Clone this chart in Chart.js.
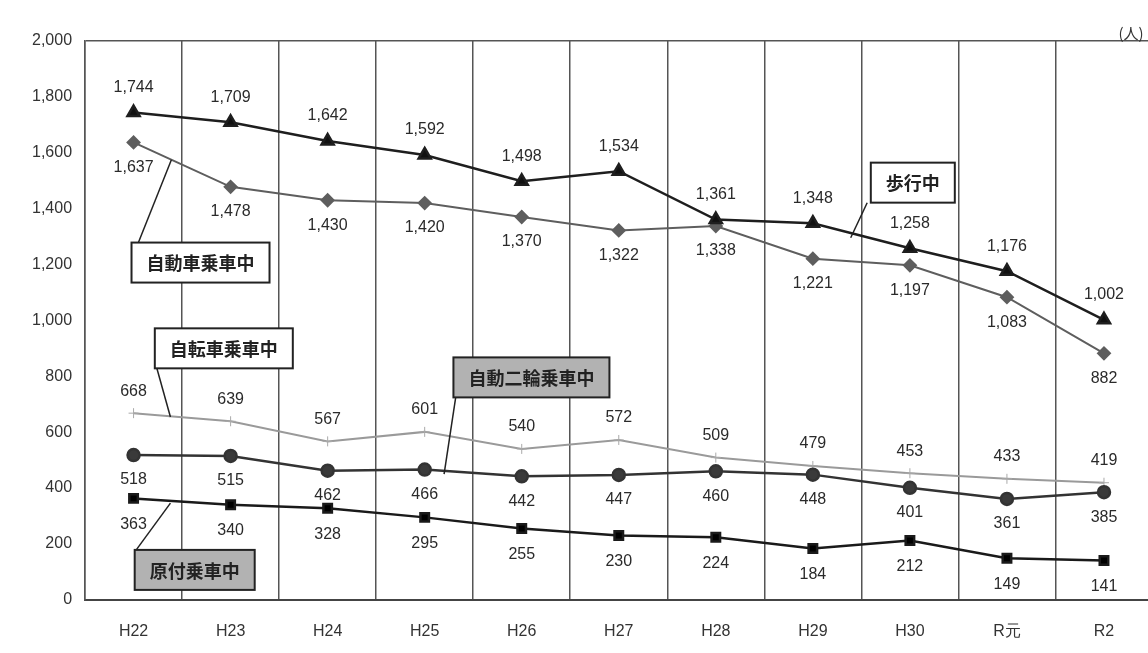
<!DOCTYPE html>
<html>
<head>
<meta charset="utf-8">
<script src="https://cdn.jsdelivr.net/npm/chart.js@4"></script>
<style>
  html, body { margin: 0; padding: 0; background: #fff; overflow: hidden; }
  #wrap { width: 1162px; height: 663px; }
</style>
</head>
<body>
<div id="wrap"><canvas id="chartCasualties"></canvas></div>
<script>
const years = ['H22', 'H23', 'H24', 'H25', 'H26', 'H27', 'H28', 'H29', 'H30', 'R元', 'R2'];
const walking = [1744, 1709, 1642, 1592, 1498, 1534, 1361, 1348, 1258, 1176, 1002];
const car = [1637, 1478, 1430, 1420, 1370, 1322, 1338, 1221, 1197, 1083, 882];
const bicycle = [668, 639, 567, 601, 540, 572, 509, 479, 453, 433, 419];
const motorcycle = [518, 515, 462, 466, 442, 447, 460, 448, 401, 361, 385];
const moped = [363, 340, 328, 295, 255, 230, 224, 184, 212, 149, 141];

// callout boxes: centre (category index, value), leader line from / to
const callouts = [
  { text: '歩行中', x: 8.03, y: 1493, fill: '#fff', from: [7.56, 1421], to: [7.39, 1296] },
  { text: '自動車乗車中', x: 0.69, y: 1207, fill: '#fff', from: [0.05, 1279], to: [0.39, 1575] },
  { text: '自転車乗車中', x: 0.93, y: 900, fill: '#fff', from: [0.24, 829], to: [0.38, 654] },
  { text: '自動二輪乗車中', x: 4.1, y: 796, fill: '#b2b2b2', from: [3.32, 725], to: [3.2, 450] },
  { text: '原付乗車中', x: 0.63, y: 107, fill: '#b2b2b2', from: [0.02, 175], to: [0.38, 346] },
];

const valueLabels = {
  id: 'valueLabels',
  afterDatasetsDraw(chart) {
    const ctx = chart.ctx;
    ctx.save();
    ctx.font = '16px "Liberation Sans", Arial, sans-serif';
    ctx.fillStyle = '#2a2a2a';
    ctx.textAlign = 'center';
    ctx.textBaseline = 'middle';
    chart.data.datasets.forEach((ds, di) => {
      const meta = chart.getDatasetMeta(di);
      meta.data.forEach((pt, i) => {
        ctx.fillText(ds.data[i].toLocaleString('en-US'), pt.x, pt.y + ds.labelOffset);
      });
    });
    ctx.restore();
  }
};

const calloutBoxes = {
  id: 'calloutBoxes',
  afterDatasetsDraw(chart) {
    const ctx = chart.ctx;
    const xs = chart.scales.x, ys = chart.scales.y;
    ctx.save();
    ctx.strokeStyle = '#222';
    ctx.lineWidth = 1.5;
    callouts.forEach(c => {
      ctx.beginPath();
      ctx.moveTo(xs.getPixelForValue(c.from[0]), ys.getPixelForValue(c.from[1]));
      ctx.lineTo(xs.getPixelForValue(c.to[0]), ys.getPixelForValue(c.to[1]));
      ctx.stroke();
    });
    ctx.font = 'bold 18px "Noto Sans CJK JP", sans-serif';
    ctx.textAlign = 'center';
    ctx.textBaseline = 'middle';
    callouts.forEach(c => {
      const cx = xs.getPixelForValue(c.x), cy = ys.getPixelForValue(c.y);
      const w = ctx.measureText(c.text).width + 30, h = 40;
      ctx.fillStyle = c.fill;
      ctx.fillRect(cx - w / 2, cy - h / 2, w, h);
      ctx.lineWidth = 2;
      ctx.strokeRect(cx - w / 2, cy - h / 2, w, h);
      ctx.fillStyle = '#222';
      ctx.fillText(c.text, cx, cy + 1);
    });
    // unit
    ctx.font = '15px "Noto Sans CJK JP", sans-serif';
    ctx.textAlign = 'left';
    ctx.fillStyle = '#333';
    ctx.fillText('(人)', xs.getPixelForValue(10.15), ys.getPixelForValue(2000) - 8);
    ctx.restore();
  }
};

const chartCasualties = document.getElementById('chartCasualties');

new Chart(chartCasualties, {
  type: 'line',
  data: {
    labels: years,
    datasets: [
      {
        label: '自転車乗車中',
        data: bicycle,
        borderColor: '#9a9a9a',
        borderWidth: 2,
        pointStyle: 'cross',
        pointRadius: 5,
        pointBorderColor: '#aaa',
        pointBorderWidth: 1,
        labelOffset: -22,
        order: 5,
      },
      {
        label: '自動車乗車中',
        data: car,
        borderColor: '#5e5e5e',
        backgroundColor: '#5e5e5e',
        borderWidth: 2,
        pointStyle: 'rectRot',
        pointRadius: 6,
        labelOffset: 25,
        order: 4,
      },
      {
        label: '歩行中',
        data: walking,
        borderColor: '#1e1e1e',
        backgroundColor: '#111',
        borderWidth: 2.5,
        pointStyle: 'triangle',
        pointRadius: 7,
        labelOffset: -25,
        order: 3,
      },
      {
        label: '自動二輪乗車中',
        data: motorcycle,
        borderColor: '#333',
        backgroundColor: '#3a3a3a',
        borderWidth: 2.5,
        pointStyle: 'circle',
        pointRadius: 6,
        labelOffset: 25,
        order: 2,
      },
      {
        label: '原付乗車中',
        data: moped,
        borderColor: '#1a1a1a',
        backgroundColor: '#000',
        borderWidth: 2.5,
        pointStyle: 'rect',
        pointRadius: 6,
        labelOffset: 26,
        order: 1,
      },
    ],
  },
  options: {
    responsive: true,
    maintainAspectRatio: false,
    animation: false,
    layout: { padding: { top: 41, right: 0, left: 19, bottom: 0 } },
    plugins: {
      legend: { display: false },
      tooltip: { enabled: false },
    },
    scales: {
      x: {
        offset: true,
        grid: { offset: true, color: '#555', lineWidth: 1.5, drawTicks: false },
        border: { color: '#444', width: 2 },
        ticks: {
          padding: 22,
          color: '#333',
          font: { family: '"Liberation Sans", Arial, sans-serif', size: 16 },
        },
      },
      y: {
        min: 0,
        max: 2000,
        grid: {
          drawTicks: false,
          color: ctx => (ctx.tick && ctx.tick.value === 2000 ? '#555' : 'transparent'),
          lineWidth: 1.5,
        },
        border: { color: '#555', width: 1.5 },
        ticks: {
          stepSize: 200,
          padding: 13,
          color: '#333',
          font: { family: '"Liberation Sans", Arial, sans-serif', size: 16 },
          callback: v => v.toLocaleString('en-US'),
        },
      },
    },
  },
  plugins: [valueLabels, calloutBoxes],
});
</script>
</body>
</html>
